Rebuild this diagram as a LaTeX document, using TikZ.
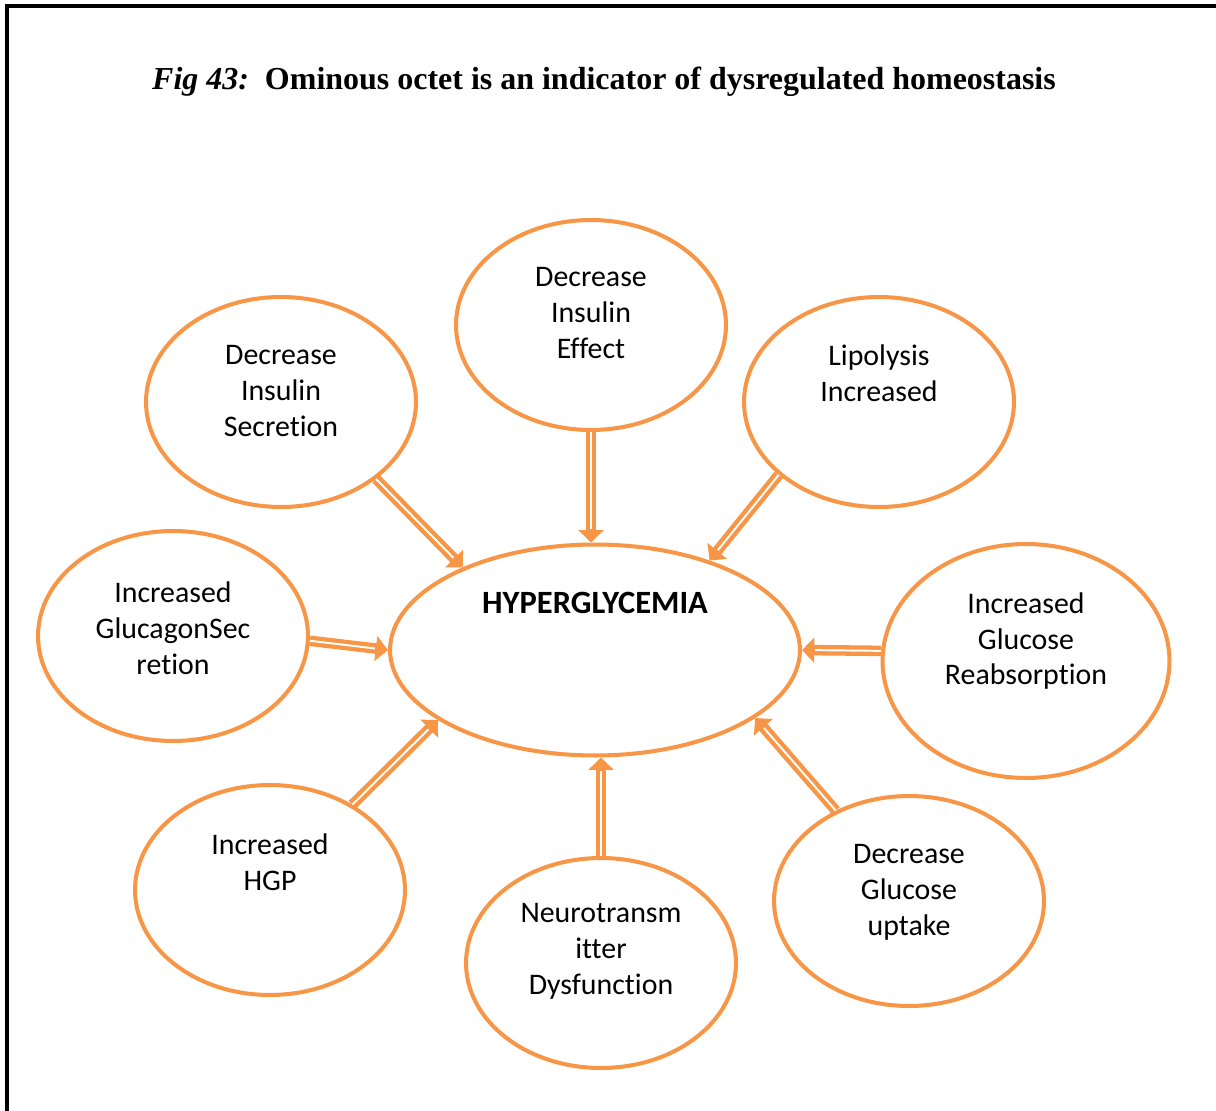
\documentclass[tikz,border=0pt]{standalone}
\usepackage{fontspec}
\setmainfont{Liberation Serif}
\newfontfamily\calibri[Ligatures=NoCommon]{Carlito}
\usetikzlibrary{arrows.meta,shapes.geometric}
\definecolor{Peach}{HTML}{F79646}

\begin{document}
\begin{tikzpicture}[x=0.02cm,y=-0.02cm,
    blob/.style={ellipse,draw=Peach,line width=2.3pt,minimum width=5.4cm,minimum height=4.2cm,inner sep=0pt},
    txt/.style={font=\calibri\fontsize{17}{20.4}\selectfont,align=center},
    dbl/.style={draw=Peach,line width=6pt,-{Triangle[length=7pt,width=14pt]},
      postaction={draw=white,line width=1.1pt,-,shorten >=7.5pt}}]
    \useasboundingbox (0,0) rectangle (1216,1111);
    % frame, open to the right and bottom
    \draw[line width=2.3pt] (7,1111) -- (7,6) -- (1216,6);
    \node[font=\bfseries\fontsize{18.2}{22}\selectfont] (title) at (604,82)
      {\textit{Fig 43:}\ \ Ominous octet is an indicator of dysregulated homeostasis};
    % centre and the eight causes
    \node[blob,minimum width=8.2cm,minimum height=4.22cm,
      label={[txt,font=\calibri\bfseries\fontsize{18.5}{22}\selectfont,yshift=26.6pt]center:HYPERGLYCEMIA}] (hyp) at (595,650) {};
    \node[blob,label={[txt,yshift=6.8pt]center:Decrease\\Insulin\\Effect}] (effect) at (591,325) {};
    \node[blob,label={[txt,yshift=6.2pt]center:Decrease\\Insulin\\Secretion}] (secr) at (281,402) {};
    \node[blob,label={[txt,yshift=16.4pt]center:Lipolysis\\Increased}] (lipo) at (879,402) {};
    \node[blob,label={[txt,yshift=4.5pt]center:Increased\\GlucagonSec\\retion}] (gluc) at (173,636) {};
    \node[blob,minimum width=5.74cm,minimum height=4.68cm,
      label={[txt,yshift=11.3pt]center:Increased\\Glucose\\Reabsorption}] (reab) at (1026,661) {};
    \node[blob,label={[txt,yshift=15.9pt]center:Increased\\HGP}] (hgp) at (270,890) {};
    \node[blob,label={[txt,yshift=6.8pt]center:Neurotransm\\itter\\Dysfunction}] (neuro) at (601,963) {};
    \node[blob,label={[txt,yshift=5.1pt]center:Decrease\\Glucose\\uptake}] (uptake) at (909,901) {};
    % arrows into the centre
    \draw[dbl] (secr.-39) -- (hyp.148);
    \draw[dbl] (effect.south) -- (effect.south |- hyp.north);
    \draw[dbl] (lipo.-144) -- (hyp.38);
    \draw[dbl] (gluc.-2) -- (hyp.180);
    \draw[dbl] (reab.176) -- (hyp.0);
    \draw[dbl] (hgp.46) -- (hyp.-156);
    \draw[dbl] (neuro.north) -- (neuro.north |- hyp.south);
    \draw[dbl] (uptake.129) -- (hyp.-23);
\end{tikzpicture}
\end{document}
